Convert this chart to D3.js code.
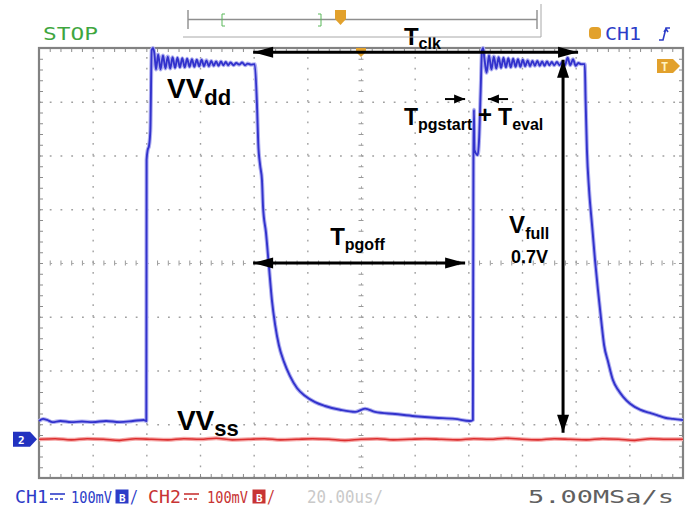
<!DOCTYPE html>
<html>
<head>
<meta charset="utf-8">
<script src="https://cdn.jsdelivr.net/npm/d3@7"></script>
<style>
  html, body { margin: 0; padding: 0; background: #fff; }
  svg { display: block; }
</style>
</head>
<body>
<svg id="scope" width="689" height="514"></svg>
<script>
// scope screen: 12 div x 20us, 8 div x 100mV, centre = 0
const timeRange = [0, 240];
const voltRange = [-400, 400];

// CH1 (blue), [us, mV]
const ch1Trace = [
  [0, -294], [1.5, -290], [3, -292], [5, -296], [8, -294], [12, -296], [16, -295], [20, -296],
  [25, -294], [30, -296], [35, -294], [39, -292], [40.0, -294],
  [40.1, 192], [40.5, 210], [41.0, 218], [41.5, 247], [42.0, 396], [42.5, 400],
  [43.0, 390], [43.6, 360], [44.4, 388], [45.3, 360], [46.2, 386], [47.1, 362], [48.0, 384],
  [48.9, 362], [49.8, 383], [50.7, 363], [51.6, 382], [52.5, 364], [53.4, 381], [54.3, 364],
  [55.2, 380], [56.1, 365], [57.0, 379], [57.9, 365], [58.8, 378], [59.7, 366], [60.6, 378],
  [61.5, 366], [62.4, 377], [63.3, 366], [64.2, 376], [65.1, 367], [66.0, 375], [66.9, 367],
  [67.8, 375], [68.7, 368], [69.6, 374], [70.5, 368], [71.4, 373], [72.5, 368], [73.5, 372],
  [74.6, 369], [75.7, 373], [76.8, 368], [77.8, 371], [79.0, 369], [80.4, 370],
  [81.3, 285], [81.7, 223], [82.4, 182], [83.1, 154], [83.5, 104], [84.6, 56], [85.7, -7],
  [86.8, -69], [88.0, -115], [89.4, -153], [91.3, -184], [93.5, -210], [96.2, -233],
  [99.1, -247], [102.9, -259], [106.6, -266], [112.2, -273], [117.8, -277], [121.5, -271],
  [125.2, -277], [132.7, -281], [140.1, -285], [147.6, -288], [155.0, -290], [160.6, -294],
  [161.7, -292],
  [161.9, 192], [162.1, 285], [162.3, 210], [163.5, 201], [164.0, 229], [164.6, 322],
  [165.1, 396], [165.5, 400], [166.0, 380],
  [166.8, 354], [167.7, 386], [168.6, 360], [169.5, 384], [170.4, 362], [171.3, 383],
  [172.2, 363], [173.1, 382], [174.0, 364], [174.9, 381], [175.8, 364], [176.7, 380],
  [177.6, 365], [178.5, 379], [179.4, 365], [180.3, 378], [181.2, 366], [182.1, 377],
  [183.0, 366], [183.9, 376], [184.8, 367], [185.7, 376], [186.6, 367], [187.5, 375],
  [188.4, 367], [189.3, 375], [190.2, 368], [191.1, 374], [192.0, 368], [193.0, 374],
  [194.0, 368], [195.0, 374], [196.0, 368], [197.0, 382], [198.0, 368], [199.0, 379],
  [200.0, 367], [201.0, 372], [202.0, 370], [203.4, 370],
  [203.7, 303], [204.2, 210], [205.0, 136], [206.1, 71], [207.2, 6], [208.3, -50],
  [209.5, -106], [210.6, -153], [212.1, -184], [213.9, -218], [215.8, -236], [217.7, -249],
  [220.3, -262], [224.0, -273], [227.7, -279], [230.3, -283], [233.3, -288], [236.3, -290],
  [240.0, -292]
];

// CH2 (red) flat trace with its noise, [us, mV]
const ch2Trace = [
  [0, -328], [6, -327], [12, -329], [18, -327], [24, -328], [30, -330], [36, -327], [42, -328],
  [48, -329], [54, -327], [60, -328], [66, -326], [72, -329], [78, -328], [84, -327], [90, -329],
  [96, -328], [102, -327], [108, -328], [114, -330], [120, -328], [126, -327], [132, -329],
  [138, -328], [144, -327], [150, -328], [156, -329], [162, -327], [168, -328], [174, -326],
  [180, -328], [186, -329], [192, -327], [198, -328], [204, -329], [210, -327], [216, -328],
  [222, -330], [228, -327], [234, -328], [240, -328]
];

// measurement arrows, [us, mV]
const arrowList = [
  { from: [79.8, 392], to: [200.9, 392], both: true, w: 3, len: 20, half: 5.5 },   // Tclk
  { from: [79.8, 0], to: [158.8, 0], both: true, w: 3, len: 20, half: 5.5 },       // Tpgoff
  { from: [195.3, 378], to: [195.3, -316], both: true, w: 3, len: 18, half: 6 },   // Vfull
  { from: [151.3, 305], to: [158.8, 305], both: false, w: 2, len: 11, half: 4.5 },
  { from: [174.8, 305], to: [167.3, 305], both: false, w: 2, len: 11, half: 4.5 }
];

// annotation labels, [us, mV]
const labelList = [
  { t: 47.7, v: 307, main: 'VV', sub: 'dd', size: 28, subSize: 22, dy: 7 },
  { t: 51.4, v: -311, main: 'VV', sub: 'ss', size: 28, subSize: 22, dy: 6 },
  { t: 136.0, v: 406, main: 'T', sub: 'clk', size: 24, subSize: 16, dy: 4 },
  { t: 108.5, v: 33, main: 'T', sub: 'pgoff', size: 24, subSize: 16, dy: 5 },
  { t: 175.2, v: 56, main: 'V', sub: 'full', size: 24, subSize: 16, dy: 6 },
  { t: 136.0, v: 257, main: 'T', sub: 'pgstart', size: 23, subSize: 16, dy: 5 },
  { t: 171.1, v: 257, main: 'T', sub: 'eval', size: 23, subSize: 16, dy: 5 },
  { t: 163.6, v: 260, main: '+', sub: '', size: 24, subSize: 16, dy: 0 },
  { t: 175.9, v: 0, main: '0.7V', sub: '', size: 18, subSize: 16, dy: 0 }
];

const svg = d3.select('#scope');
const x = d3.scaleLinear().domain(timeRange).range([39, 683]);
const y = d3.scaleLinear().domain(voltRange).range([478, 48]);
const plotW = x(240) - x(0);
const plotH = y(-400) - y(400);

// grid: dotted division lines
const vGrid = d3.range(20, 240, 20).filter(t => t !== 120);
const hGrid = d3.range(-300, 400, 100).filter(v => v !== 0);
const subT = d3.range(0, 241, 4);
const subV = d3.range(-400, 401, 20);

const grid = svg.append('g');
grid.append('g').attr('transform', `translate(0,${y(-400)})`)
  .call(d3.axisBottom(x).tickValues(vGrid).tickSize(-plotH).tickFormat(''));
grid.append('g').attr('transform', `translate(${x(0)},0)`)
  .call(d3.axisLeft(y).tickValues(hGrid).tickSize(-plotW).tickFormat(''));
grid.selectAll('.domain').remove();
grid.selectAll('line').attr('stroke', '#a0a0a0').attr('stroke-width', 1.4)
  .attr('stroke-dasharray', '1.8,8.95');

// centre cross with sub-division ticks
const centre = svg.append('g');
centre.append('g').attr('transform', `translate(0,${y(0)})`)
  .call(d3.axisBottom(x).tickValues(subT).tickSize(2.5).tickSizeOuter(0).tickFormat(''));
centre.append('g').attr('transform', `translate(0,${y(0)})`)
  .call(d3.axisTop(x).tickValues(subT).tickSize(2.5).tickSizeOuter(0).tickFormat(''));
centre.append('g').attr('transform', `translate(${x(120)},0)`)
  .call(d3.axisLeft(y).tickValues(subV).tickSize(2.5).tickSizeOuter(0).tickFormat(''));
centre.append('g').attr('transform', `translate(${x(120)},0)`)
  .call(d3.axisRight(y).tickValues(subV).tickSize(2.5).tickSizeOuter(0).tickFormat(''));
centre.selectAll('.domain').attr('stroke', '#aaa').attr('stroke-dasharray', '1.8,8.95');
centre.selectAll('line').attr('stroke', '#999');

// frame edge ticks (inward)
const edge = svg.append('g');
edge.append('g').attr('transform', `translate(0,${y(-400)})`)
  .call(d3.axisTop(x).tickValues(subT).tickSize(4).tickSizeOuter(0).tickFormat(''));
edge.append('g').attr('transform', `translate(0,${y(400)})`)
  .call(d3.axisBottom(x).tickValues(subT).tickSize(4).tickSizeOuter(0).tickFormat(''));
edge.append('g').attr('transform', `translate(${x(0)},0)`)
  .call(d3.axisRight(y).tickValues(subV).tickSize(4).tickSizeOuter(0).tickFormat(''));
edge.append('g').attr('transform', `translate(${x(240)},0)`)
  .call(d3.axisLeft(y).tickValues(subV).tickSize(4).tickSizeOuter(0).tickFormat(''));
edge.selectAll('.domain').remove();
edge.selectAll('line').attr('stroke', '#8c8c8c');

svg.append('rect')
  .attr('x', x(0)).attr('y', y(400)).attr('width', plotW).attr('height', plotH)
  .attr('fill', 'none').attr('stroke', '#828282').attr('stroke-width', 2.2);

// traces
const line = d3.line().x(d => x(d[0])).y(d => y(d[1])).curve(d3.curveMonotoneX);

svg.append('path').datum(ch2Trace).attr('d', line)
  .attr('fill', 'none').attr('stroke', '#f5a8a8').attr('stroke-width', 4);
svg.append('path').datum(ch2Trace).attr('d', line)
  .attr('fill', 'none').attr('stroke', '#dc2e2e').attr('stroke-width', 1.6);

svg.append('path').datum(ch1Trace).attr('d', line)
  .attr('fill', 'none').attr('stroke', '#b0b0f0').attr('stroke-width', 4)
  .attr('stroke-linejoin', 'round');
svg.append('path').datum(ch1Trace).attr('d', line)
  .attr('fill', 'none').attr('stroke', '#3232cc').attr('stroke-width', 1.9)
  .attr('stroke-linejoin', 'round');

// scope markers
const orange = '#e2a12c';
svg.append('path')
  .attr('d', `M${x(120) - 5},${y(400)} h10 v4 l-5,5 l-5,-5 z`).attr('fill', orange);
svg.append('path')
  .attr('d', 'M657,59 h16 l7,7 l-7,7 h-16 z').attr('fill', orange);
svg.append('text').attr('x', 661).attr('y', 71).text('T')
  .attr('font-family', 'DejaVu Sans Mono').attr('font-size', 12).attr('font-weight', 'bold')
  .attr('fill', '#fff3c0');

svg.append('path')
  .attr('d', `M13,${y(-328) - 7.5} h17 l7,7.5 l-7,7.5 h-17 z`).attr('fill', '#2232c0');
svg.append('text').attr('x', 18).attr('y', y(-328) + 4.5).text('2')
  .attr('font-family', 'DejaVu Sans Mono').attr('font-size', 11).attr('font-weight', 'bold')
  .attr('fill', '#fff');

// arrows
const ann = svg.append('g').attr('fill', '#000').attr('stroke', '#000');
function head(tip, back, len, half) {
  const dx = tip[0] - back[0], dy = tip[1] - back[1];
  const d = Math.hypot(dx, dy);
  const ux = dx / d, uy = dy / d;
  const bx = tip[0] - ux * len, by = tip[1] - uy * len;
  return `M${tip[0]},${tip[1]} L${bx - uy * half},${by + ux * half} L${bx + uy * half},${by - ux * half} Z`;
}
arrowList.forEach(a => {
  const p1 = [x(a.from[0]), y(a.from[1])];
  const p2 = [x(a.to[0]), y(a.to[1])];
  ann.append('line').attr('x1', p1[0]).attr('y1', p1[1]).attr('x2', p2[0]).attr('y2', p2[1])
    .attr('stroke-width', a.w);
  ann.append('path').attr('d', head(p2, p1, a.len, a.half)).attr('stroke', 'none');
  if (a.both) ann.append('path').attr('d', head(p1, p2, a.len, a.half)).attr('stroke', 'none');
});

// labels
labelList.forEach(l => {
  const txt = svg.append('text')
    .attr('x', x(l.t)).attr('y', y(l.v))
    .attr('font-family', 'Liberation Sans, Arial, sans-serif').attr('font-weight', 'bold')
    .attr('font-size', l.size).attr('fill', '#000');
  txt.append('tspan').text(l.main);
  if (l.sub) txt.append('tspan').attr('font-size', l.subSize).attr('dy', l.dy).text(l.sub);
});

// header
const mono = 'DejaVu Sans Mono, monospace';
svg.append('text').attr('x', 43).attr('y', 40).text('STOP')
  .attr('font-family', mono).attr('font-size', 17).attr('fill', '#3fa63f')
  .attr('textLength', 55).attr('lengthAdjust', 'spacingAndGlyphs');

const bar = svg.append('g').attr('stroke', '#8e8e8e').attr('fill', 'none');
bar.append('path').attr('d', 'M183,37 H541 V4').attr('stroke', '#a8a8a8');
bar.append('path').attr('d', 'M188,10 V29 M188,19.5 H537 M537,10 V29').attr('stroke-width', 1.4);
bar.append('path').attr('d', 'M225,14 h-3 v12 h3 M318,14 h3 v12 h-3').attr('stroke', '#5bb85b');
svg.append('path').attr('d', 'M335,10 h11 v9 l-5.5,6 l-5.5,-6 z').attr('fill', orange);

svg.append('rect').attr('x', 589).attr('y', 27).attr('width', 12).attr('height', 12)
  .attr('rx', 4).attr('fill', orange);
svg.append('text').attr('x', 605).attr('y', 40).text('CH1')
  .attr('font-family', mono).attr('font-size', 17).attr('fill', '#2c3cc8')
  .attr('textLength', 36).attr('lengthAdjust', 'spacingAndGlyphs');
svg.append('path').attr('d', 'M659,40 h4 l3,-12 h4 M664,32 l2,-3 l2,3')
  .attr('fill', 'none').attr('stroke', '#2c3cc8').attr('stroke-width', 1.6);

// status line
const status = [
  { x: 15, text: 'CH1', w: 33, c: '#2c3cc8', s: 17 },
  { x: 71, text: '100mV', w: 41, c: '#2c3cc8', s: 15 },
  { x: 130, text: '/', w: 8, c: '#2c3cc8', s: 17 },
  { x: 148, text: 'CH2', w: 33, c: '#c83434', s: 17 },
  { x: 207, text: '100mV', w: 41, c: '#c83434', s: 15 },
  { x: 267, text: '/', w: 8, c: '#c83434', s: 17 },
  { x: 307, text: '20.00us/', w: 76, c: '#c9c9c9', s: 17 },
  { x: 528, text: '5.00MSa/s', w: 146, c: '#606060', s: 17 }
];
status.forEach(s => {
  svg.append('text').attr('x', s.x).attr('y', 503).text(s.text)
    .attr('font-family', mono).attr('font-size', s.s).attr('fill', s.c)
    .attr('textLength', s.w).attr('lengthAdjust', 'spacingAndGlyphs');
});
[[50, '#2c3cc8'], [184, '#c83434']].forEach(([sx, c]) => {
  svg.append('path').attr('d', `M${sx},494 h15`).attr('stroke', c).attr('stroke-width', 1.6);
  svg.append('path').attr('d', `M${sx},499 h15`).attr('stroke', c).attr('stroke-width', 1.6)
    .attr('stroke-dasharray', '3,2');
});
[[116, '#2c3cc8'], [253, '#c83434']].forEach(([bx, c]) => {
  svg.append('rect').attr('x', bx).attr('y', 490).attr('width', 12).attr('height', 13)
    .attr('fill', c).attr('stroke', c);
  svg.append('text').attr('x', bx + 3).attr('y', 501.5).text('B')
    .attr('font-family', mono).attr('font-size', 11).attr('font-weight', 'bold').attr('fill', '#fff');
});
</script>
</body>
</html>
